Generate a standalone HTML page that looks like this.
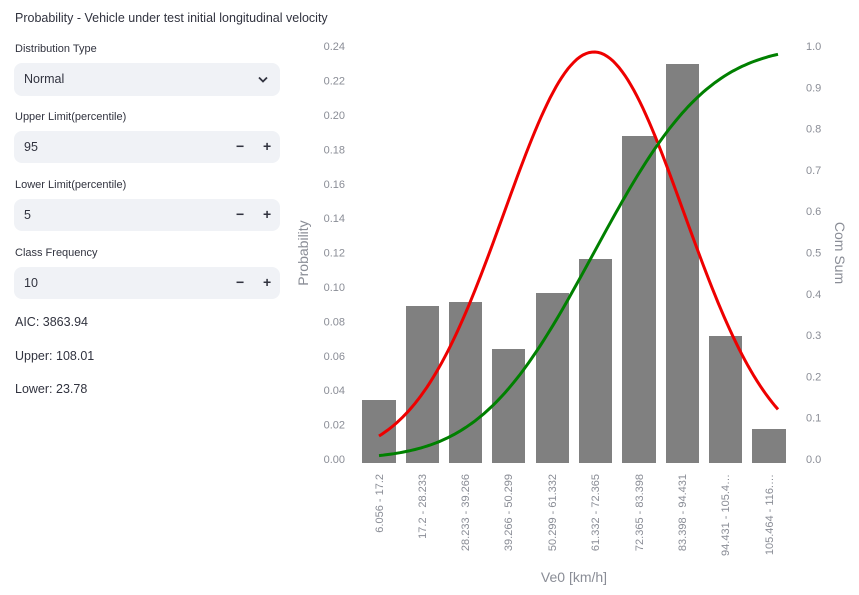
<!DOCTYPE html>
<html><head><meta charset="utf-8"><style>
body{margin:0;width:859px;height:595px;background:#fff;font-family:"Liberation Sans",sans-serif;color:#31333f;position:relative;overflow:hidden}
.t{position:absolute;left:15px;white-space:nowrap}
.box{position:absolute;left:14px;width:266px;height:32px;background:#f0f2f6;border-radius:8px;font-size:12.5px}
.box span{position:absolute;left:10px;top:9px}
.pm{position:absolute;top:7px;font-size:14px;font-weight:bold}
</style></head><body>
<div class="t" style="top:11px;font-size:12.5px">Probability - Vehicle under test initial longitudinal velocity</div>
<div class="t" style="top:43px;font-size:11px">Distribution Type</div>
<div class="box" style="top:63px;height:33px"><span>Normal</span><svg style="position:absolute;left:244px;top:13px" width="10" height="8"><path d="M1 1.5L5 5.5L9 1.5" stroke="#31333f" stroke-width="1.8" fill="none"/></svg></div>
<div class="t" style="top:111px;font-size:11px">Upper Limit(percentile)</div>
<div class="box" style="top:131px"><span>95</span><b class="pm" style="left:222px">−</b><b class="pm" style="left:249px">+</b></div>
<div class="t" style="top:179px;font-size:11px">Lower Limit(percentile)</div>
<div class="box" style="top:199px"><span>5</span><b class="pm" style="left:222px">−</b><b class="pm" style="left:249px">+</b></div>
<div class="t" style="top:247px;font-size:11px">Class Frequency</div>
<div class="box" style="top:267px"><span>10</span><b class="pm" style="left:222px">−</b><b class="pm" style="left:249px">+</b></div>
<div class="t" style="top:315px;font-size:12.5px">AIC: 3863.94</div>
<div class="t" style="top:349px;font-size:12.5px">Upper: 108.01</div>
<div class="t" style="top:382px;font-size:12.5px">Lower: 23.78</div>
<svg id="c" style="position:absolute;left:0;top:0" width="859" height="595" font-family="Liberation Sans, sans-serif" fill="#8a8d96">
<g font-size="11" text-anchor="end" id="lt"></g>
<g font-size="11" id="rt"></g>
<text transform="translate(308,253) rotate(-90)" font-size="14" text-anchor="middle">Probability</text>
<text transform="translate(835,253) rotate(90)" font-size="14" text-anchor="middle">Com Sum</text>
<text x="574" y="582" font-size="14" text-anchor="middle">Ve0 [km/h]</text>
<g fill="#808080">
<rect x="362" y="400" width="34" height="63"/><rect x="406" y="306" width="33" height="157"/><rect x="449" y="302" width="33" height="161"/><rect x="492" y="349" width="33" height="114"/><rect x="536" y="293" width="33" height="170"/><rect x="579" y="259" width="33" height="204"/><rect x="622" y="136" width="34" height="327"/><rect x="666" y="64" width="33" height="399"/><rect x="709" y="336" width="33" height="127"/><rect x="752" y="429" width="34" height="34"/>
</g>
<g font-size="11" text-anchor="end">
<text transform="translate(383,474) rotate(-90)">6.056 - 17.2</text>
<text transform="translate(426,474) rotate(-90)">17.2 - 28.233</text>
<text transform="translate(469,474) rotate(-90)">28.233 - 39.266</text>
<text transform="translate(512,474) rotate(-90)">39.266 - 50.299</text>
<text transform="translate(556,474) rotate(-90)">50.299 - 61.332</text>
<text transform="translate(599,474) rotate(-90)">61.332 - 72.365</text>
<text transform="translate(643,474) rotate(-90)">72.365 - 83.398</text>
<text transform="translate(686,474) rotate(-90)">83.398 - 94.431</text>
<text transform="translate(729,474) rotate(-90)">94.431 - 105.4…</text>
<text transform="translate(773,474) rotate(-90)">105.464 - 116.…</text>
</g>
<path id="r" fill="none" stroke="#ee0000" stroke-width="3"/>
<path id="g" fill="none" stroke="#008000" stroke-width="3"/>
</svg>
<script>
var NS="http://www.w3.org/2000/svg";
function add(p,x,y,t){var e=document.createElementNS(NS,"text");e.setAttribute("x",x);e.setAttribute("y",y);e.textContent=t;document.getElementById(p).appendChild(e);}
for(var k=0;k<=12;k++)add("lt",345,(459-34.4*k+4).toFixed(1),(k*0.02).toFixed(2));
for(var k=0;k<=10;k++)add("rt",806,(459-41.3*k+4).toFixed(1),(k*0.1).toFixed(1));
function erf(x){var s=x<0?-1:1;x=Math.abs(x);var t=1/(1+0.3275911*x);var y=1-(((((1.061405429*t-1.453152027)*t)+1.421413741)*t-0.284496736)*t+0.254829592)*t*Math.exp(-x*x);return s*y;}
var r="",g="",m=594,s=89.7;
for(var x=379;x<=778;x+=3){var z=(x-m)/s;var yr=459-407*Math.exp(-z*z/2);var yg=459-413*0.5*(1+erf(z/Math.SQRT2));r+=(x==379?"M":"L")+x+" "+yr.toFixed(1);g+=(x==379?"M":"L")+x+" "+yg.toFixed(1);}
document.getElementById("r").setAttribute("d",r);document.getElementById("g").setAttribute("d",g);
</script>
</body></html>
